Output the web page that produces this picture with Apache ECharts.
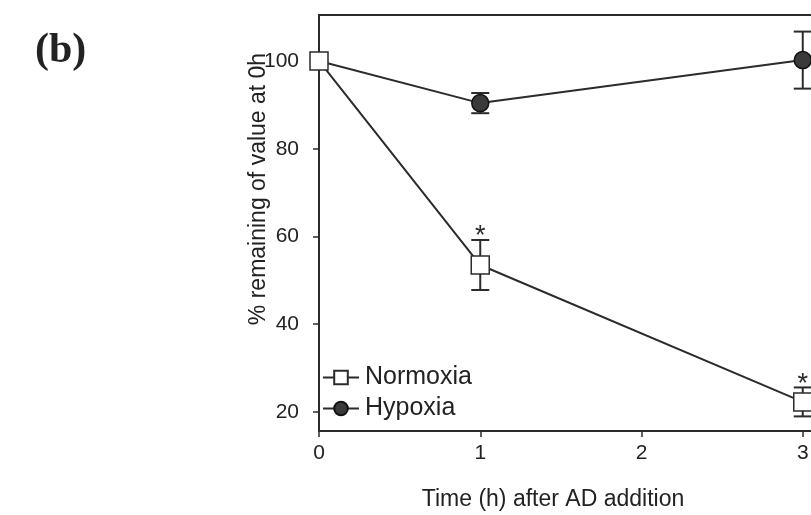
<!DOCTYPE html>
<html>
<head>
<meta charset="utf-8">
<script src="https://cdn.jsdelivr.net/npm/echarts@6/dist/echarts.min.js"></script>
<style>
  html, body { margin: 0; padding: 0; background: #fff; }
  #chart { width: 811px; height: 515px; }
</style>
</head>
<body>
<div id="chart"></div>
<script>
// Time points (h) after AD addition
const times = [0, 1, 3];
// Percent remaining of value at 0 h, means and error half-widths
const normoxia = [100, 53.5, 22.3];
const normoxiaErr = [0, 5.7, 3.3];
const normoxiaSig = [false, true, true];
const hypoxia = [100, 90.4, 100.2];
const hypoxiaErr = [0, 2.3, 6.5];
const hypoxiaSig = [false, false, false];
// Axis ticks
const xTicks = [0, 1, 2, 3];
const yTicks = [20, 40, 60, 80, 100];

const INK = '#2b2b2b';
const FONT = "'Liberation Sans', Arial, sans-serif";

function pairs(xs, ys) { return xs.map((x, i) => [x, ys[i]]); }
function errRows(xs, ys, es, sig) { return xs.map((x, i) => [x, ys[i], es[i], sig[i] ? 1 : 0]); }

function renderErr(params, api) {
  const x = api.value(0), y = api.value(1), e = api.value(2), star = api.value(3);
  const children = [];
  if (e > 0) {
    const top = api.coord([x, y + e]);
    const bot = api.coord([x, y - e]);
    const cap = 9;
    const st = { stroke: INK, lineWidth: 2 };
    children.push({ type: 'line', shape: { x1: top[0], y1: top[1], x2: bot[0], y2: bot[1] }, style: st });
    children.push({ type: 'line', shape: { x1: top[0] - cap, y1: top[1], x2: top[0] + cap, y2: top[1] }, style: st });
    children.push({ type: 'line', shape: { x1: bot[0] - cap, y1: bot[1], x2: bot[0] + cap, y2: bot[1] }, style: st });
    if (star) {
      children.push({ type: 'text', x: top[0], y: top[1] - 3,
        style: { text: '*', font: '27px ' + FONT, fill: INK, align: 'center', verticalAlign: 'middle' } });
    }
  }
  return { type: 'group', children: children };
}

const chart = echarts.init(document.getElementById('chart'), null, { renderer: 'canvas' });
chart.setOption({
  animation: false,
  backgroundColor: '#fff',
  // the plot box runs past the right edge of the canvas
  grid: {
    left: 319, top: 15, width: 516, bottom: 84,
    outerBoundsMode: 'none', containLabel: false,
    show: true, borderColor: INK, borderWidth: 2, backgroundColor: 'transparent'
  },
  xAxis: {
    type: 'value', min: 0, max: 3.2,
    axisLine: { lineStyle: { color: INK, width: 2 } },
    axisTick: { show: true, length: 6, inside: false, lineStyle: { color: INK, width: 1.5 }, customValues: xTicks },
    axisLabel: { customValues: xTicks, color: '#222', fontFamily: FONT, fontSize: 21, margin: 12 },
    splitLine: { show: false }
  },
  yAxis: {
    type: 'value', min: 15.67, max: 110.48,
    axisLine: { lineStyle: { color: INK, width: 2 } },
    axisTick: { show: true, length: 6, inside: false, lineStyle: { color: INK, width: 1.5 }, customValues: yTicks },
    axisLabel: { customValues: yTicks, color: '#222', fontFamily: FONT, fontSize: 21, margin: 20 },
    splitLine: { show: false }
  },
  legend: {
    orient: 'vertical', left: 317, top: 360,
    data: ['Normoxia', 'Hypoxia'],
    itemWidth: 36, itemHeight: 17, itemGap: 6,
    textStyle: { fontFamily: FONT, fontSize: 25, color: '#222', padding: [0, 0, 0, 1] }
  },
  graphic: [
    { type: 'text', left: 35, top: 30, style: { text: '(b)', font: "bold 42px 'Liberation Serif', 'Times New Roman', serif", fill: '#222' } },
    { type: 'text', x: 259, y: 189, rotation: Math.PI / 2,
      style: { text: '% remaining of value at 0h', font: '23px ' + FONT, fill: '#222', align: 'center', verticalAlign: 'middle' } },
    { type: 'text', x: 553, y: 500,
      style: { text: 'Time (h) after AD addition', font: '23px ' + FONT, fill: '#222', align: 'center', verticalAlign: 'middle' } }
  ],
  series: [
    { type: 'custom', name: 'hypoxiaErr', renderItem: renderErr, data: errRows(times, hypoxia, hypoxiaErr, hypoxiaSig), z: 1, silent: true },
    { type: 'custom', name: 'normoxiaErr', renderItem: renderErr, data: errRows(times, normoxia, normoxiaErr, normoxiaSig), z: 1, silent: true },
    {
      type: 'line', name: 'Hypoxia', data: pairs(times, hypoxia), z: 3,
      symbol: 'circle', symbolSize: 17, showAllSymbol: true,
      lineStyle: { color: INK, width: 2 },
      itemStyle: { color: '#3a3a3a', borderColor: '#111', borderWidth: 1.5 }
    },
    {
      type: 'line', name: 'Normoxia', data: pairs(times, normoxia), z: 4,
      symbol: 'rect', symbolSize: 18, showAllSymbol: true,
      lineStyle: { color: INK, width: 2 },
      itemStyle: { color: '#fff', borderColor: INK, borderWidth: 1.5 }
    }
  ]
});
</script>
</body>
</html>
